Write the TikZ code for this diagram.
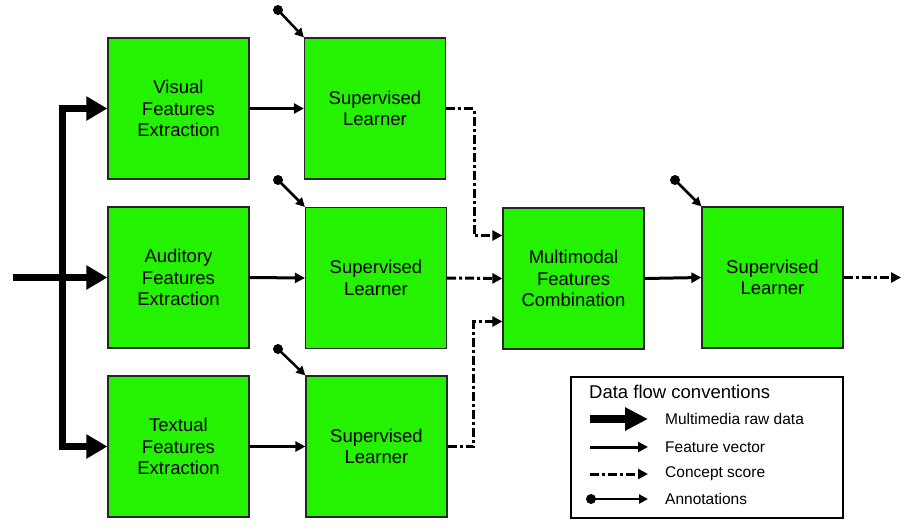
\documentclass[tikz,border=0pt]{standalone}
\usepackage{fontspec}
\setmainfont{Liberation Sans}
\usetikzlibrary{arrows.meta}
\definecolor{boxgreen}{RGB}{37,242,0}
\begin{document}
\begin{tikzpicture}[x=1pt,y=-1pt,
  box/.style={draw=black!85,line width=1.2pt,fill=boxgreen,minimum width=141pt,minimum height=141pt,inner sep=0pt,align=center,font=\fontsize{18.5}{21.5}\selectfont},
  rawdata/.style={line width=7pt,-{Triangle[length=21pt,width=23pt]}},
  feature/.style={line width=3pt,-{Triangle[length=10pt,width=10pt]}},
  concept/.style={line width=3pt,dash pattern=on 9pt off 3pt on 3pt off 3pt,-{Triangle[length=10pt,width=10pt]}},
  annot/.style={line width=2.5pt,-{Triangle[length=9pt,width=9pt]}},
  dot/.style={fill=black,circle,inner sep=0pt,minimum size=10pt},
  legtext/.style={anchor=west,inner sep=0pt,font=\fontsize{15.5}{18}\selectfont}
]
\useasboundingbox (0,0) rectangle (919,531);

\node[box] (vis) at (178.5,108.5) {Visual\\Features\\Extraction};
\node[box] (aud) at (178.5,277.5) {Auditory\\Features\\Extraction};
\node[box] (txt) at (178.5,446.5) {Textual\\Features\\Extraction};
\node[box] (sl1) at (375,108.5) {Supervised\\Learner};
\node[box] (sl2) at (376,278) {Supervised\\Learner};
\node[box] (sl3) at (376.5,446.5) {Supervised\\Learner};
\node[box] (mm) at (573.5,278.5) {Multimodal\\Features\\Combination};
\node[box] (sl4) at (772.5,277.5) {Supervised\\Learner};

% raw data
\coordinate (in) at (13,277.5);
\coordinate (tr) at (62,277.5);
\draw[rawdata] (in) -- (aud.west);
\draw[rawdata,line join=miter] (tr) |- (vis.west);
\draw[rawdata,line join=miter] (tr) |- (txt.west);

% feature vectors
\draw[feature] (vis.east) -- (sl1.west);
\draw[feature] (aud.east) -- (sl2.west);
\draw[feature] (txt.east) -- (sl3.west);
\draw[feature] (mm.east) -- (sl4.west);

% concept scores
\draw[concept] (sl1.east) -- ++(28,0) |- ([yshift=43pt]mm.west);
\draw[concept] (sl2.east) -- (mm.west);
\draw[concept] (sl3.east) -- ++(26,0) |- ([yshift=-43pt]mm.west);
\coordinate (out) at (901,277.5);
\draw[concept] (sl4.east) -- (out);

% annotations
\node[dot] (a1) at (278,10) {};
\node[dot] (a2) at (278,180) {};
\node[dot] (a3) at (278,349) {};
\node[dot] (a4) at (675,180) {};
\draw[annot] (a1.center) -- (sl1.north west);
\draw[annot] (a2.center) -- (sl2.north west);
\draw[annot] (a3.center) -- (sl3.north west);
\draw[annot] (a4.center) -- (sl4.north west);

% legend
\node[draw=black,line width=2.5pt,minimum width=272pt,minimum height=141pt,inner sep=0pt] (leg) at (707,447.5) {};
\node[anchor=west,inner sep=0pt,font=\fontsize{18.5}{21}\selectfont] (legt) at (589,392) {Data flow conventions};
\coordinate (l1s) at (590,419); \coordinate (l1e) at (648,419);
\coordinate (l2s) at (590,447); \coordinate (l2e) at (648,447);
\coordinate (l3s) at (590,474); \coordinate (l3e) at (648,474);
\node[dot] (l4s) at (591,499) {}; \coordinate (l4e) at (648,499);
\draw[line width=8pt,-{Triangle[length=23pt,width=22pt]}] (l1s) -- (l1e);
\draw[feature] (l2s) -- (l2e);
\draw[concept] (l3s) -- (l3e);
\draw[annot] (l4s.center) -- (l4e);
\node[legtext] (t1) at (665,419) {Multimedia raw data};
\node[legtext] (t2) at (665,447) {Feature vector};
\node[legtext] (t3) at (665,474) {Concept score};
\node[legtext] (t4) at (665,499) {Annotations};
\end{tikzpicture}
\end{document}
